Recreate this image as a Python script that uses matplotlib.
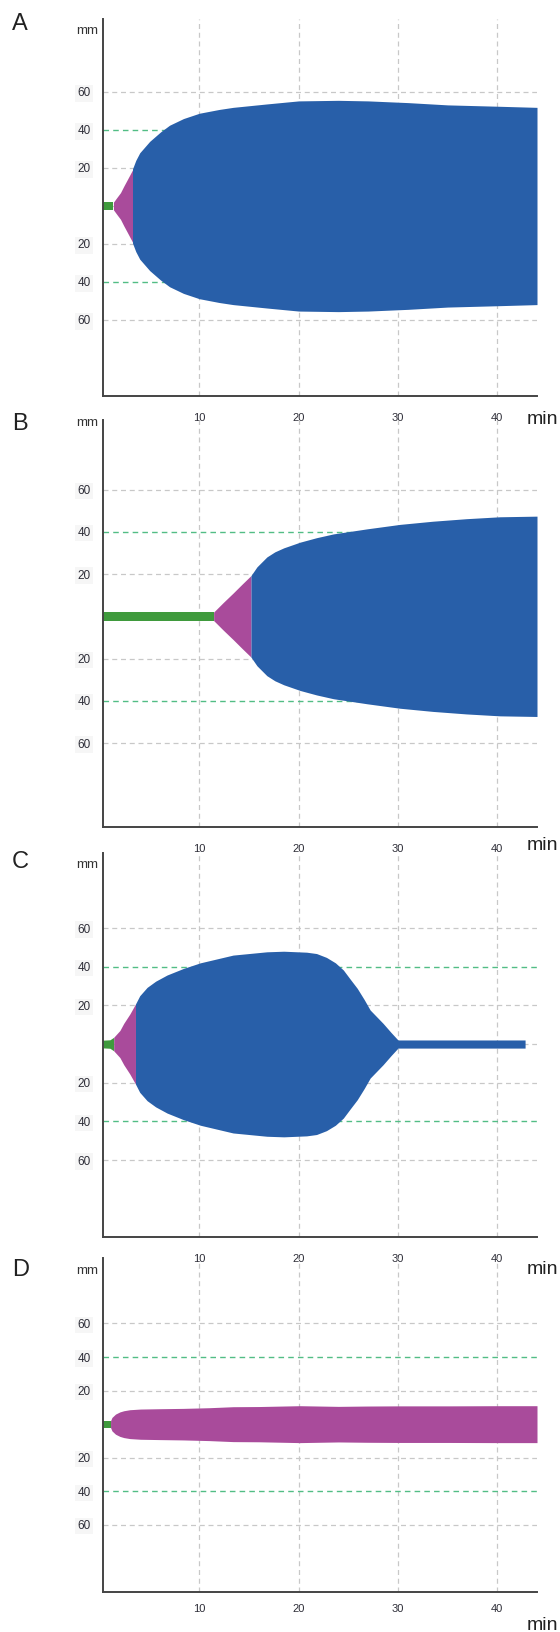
import matplotlib
matplotlib.use('Agg')
import matplotlib.pyplot as plt

# ---- data (time in min, half-width in mm) ----
# panel A
a_green_t = [0.3, 1.35]
a_green_h = [2.0, 2.0]
a_purple_t = [1.35, 1.7, 2.06, 2.4, 2.73, 3.27]
a_purple_h = [2.0, 4.5, 7.0, 10.5, 13.7, 19.0]
a_blue_t = [3.27, 3.6, 4.0, 4.4, 5.0, 6.1, 7.0, 8.4, 10.0, 12.0, 13.4, 16.8,
            20.0, 24.0, 27.0, 31.0, 35.0, 40.0, 44.0]
a_blue_h = [19.5, 24.0, 28.0, 30.4, 34.0, 39.0, 42.5, 46.0, 48.8, 50.8, 51.9,
            53.7, 55.3, 55.6, 55.3, 54.4, 53.2, 52.5, 51.9]

# panel B
b_green_t = [0.3, 11.44]
b_green_h = [2.0, 2.0]
b_purple_t = [11.44, 12.4, 13.4, 14.3, 15.2]
b_purple_h = [2.0, 6.5, 11.0, 15.2, 19.3]
b_blue_t = [15.2, 15.8, 16.8, 17.6, 18.5, 20.15, 21.8, 23.5, 26.9, 30.2, 33.5,
            36.9, 40.25, 44.0]
b_blue_h = [19.3, 23.4, 28.1, 30.5, 32.4, 35.1, 37.2, 39.0, 41.4, 43.5, 45.0,
            46.2, 47.1, 47.4]

# panel C
c_green_t = [0.3, 1.0, 1.38]
c_green_h = [2.0, 2.2, 3.5]
c_purple_t = [1.38, 2.0, 2.39, 3.0, 3.57]
c_purple_h = [3.5, 7.0, 10.7, 15.5, 20.7]
c_blue_t = [3.57, 4.0, 4.74, 5.6, 6.75, 8.4, 10.1, 13.4, 16.8, 18.5, 20.8, 21.8,
            22.8, 23.7, 24.5, 25.2, 25.9, 26.6, 27.2, 28.5, 29.3, 30.0, 42.8]
c_blue_h = [20.7, 25.0, 29.3, 32.5, 35.7, 39.1, 42.0, 46.0, 47.7, 48.0, 47.5,
            46.8, 44.8, 42.0, 38.3, 33.5, 28.8, 23.0, 17.6, 10.7, 6.0, 2.1, 2.1]

# panel D
d_green_t = [0.3, 1.06]
d_green_h = [2.0, 2.0]
d_purple_t = [1.06, 1.2, 1.56, 2.0, 2.4, 3.0, 4.07, 6.0, 8.4, 11.0, 13.4, 16.0,
              20.1, 24.0, 26.9, 30.0, 35.0, 40.0, 44.0]
d_purple_h = [2.0, 4.0, 6.0, 7.3, 8.0, 8.6, 9.0, 9.2, 9.4, 9.8, 10.4, 10.5,
              11.0, 10.6, 10.8, 10.9, 10.9, 11.0, 11.0]

letters = ['A', 'B', 'C', 'D']
x_ticks = [10, 20, 30, 40]
y_ticks = [-60, -40, -20, 20, 40, 60]
y_grid_gray = [-60, -20, 0, 20, 60]
y_grid_green = [-40, 40]

GREEN = '#3f9a3d'
PURPLE = '#a94b9b'
BLUE = '#285fa9'
GRID = '#c8c8c8'
GRID_G = '#52bd85'
AXC = '#444444'
NARROW = ['Liberation Sans Narrow', 'Liberation Sans', 'DejaVu Sans']

W, H = 560, 1632
fig = plt.figure(figsize=(W / 100, H / 100), dpi=100)


def px_axes(left, top, right, bottom):
    return fig.add_axes([left / W, 1 - bottom / H, (right - left) / W, (bottom - top) / H])


def ftext(x, y, s, **kw):
    fig.text(x / W, 1 - y / H, s, **kw)


# pixel layout of each panel: top, bottom, ylim, letter y, mm y, min y, xtick pad
layout = [
    (19, 396, (-100, 98.4), 24, 31, 419, 12),
    (420, 827, (-99.7, 92.9), 424, 423, 845, 12),
    (853, 1237, (-99.8, 98.8), 862, 865, 1270, 12),
    (1258, 1592, (-100, 99), 1270, 1271, 1625, 8.5),
]

series = [
    [(a_green_t, a_green_h, GREEN), (a_purple_t, a_purple_h, PURPLE), (a_blue_t, a_blue_h, BLUE)],
    [(b_green_t, b_green_h, GREEN), (b_purple_t, b_purple_h, PURPLE), (b_blue_t, b_blue_h, BLUE)],
    [(c_green_t, c_green_h, GREEN), (c_purple_t, c_purple_h, PURPLE), (c_blue_t, c_blue_h, BLUE)],
    [(d_green_t, d_green_h, GREEN), (d_purple_t, d_purple_h, PURPLE)],
]

for letter, (top, bottom, ylim, ly, my, miny, xpad), parts in zip(letters, layout, series):
    ax = px_axes(103, top, 537, bottom)
    ax.patch.set_visible(False)  # keep the tick labels of the panel above visible
    ax.set_xlim(0.3, 44)
    ax.set_ylim(*ylim)

    # grid
    for gx in x_ticks:
        ax.axvline(gx, color=GRID, lw=0.9, ls=(0, (4, 3)), zorder=1)
    for gy in y_grid_gray:
        ax.axhline(gy, color=GRID, lw=0.9, ls=(0, (4, 3)), zorder=1)
    for gy in y_grid_green:
        ax.axhline(gy, color=GRID_G, lw=1.0, ls=(0, (4, 3)), zorder=1)

    # bands
    for t, h, col in parts:
        ax.fill_between(t, [-v for v in h], h, color=col, lw=0, zorder=3)

    for s in ['top', 'right']:
        ax.spines[s].set_visible(False)
    for s in ['left', 'bottom']:
        ax.spines[s].set_color(AXC)
        ax.spines[s].set_linewidth(1.4)
        ax.spines[s].set_zorder(5)

    ax.set_yticks(y_ticks)
    ax.set_yticklabels([str(abs(v)) for v in y_ticks], family=NARROW, fontsize=8.5, color='#2e2e38')
    ax.set_xticks(x_ticks)
    ax.set_xticklabels([str(v) for v in x_ticks], family=NARROW, fontsize=8, color='#2e2e38')
    ax.tick_params(axis='y', length=0, pad=9)
    ax.tick_params(axis='x', length=0, pad=xpad)
    for lab in ax.get_yticklabels():
        lab.set_bbox(dict(facecolor='#f6f6f6', edgecolor='none', pad=1.5))

    ftext(12, ly, letter, fontsize=17, family='Liberation Sans', va='center', ha='left', color='#222222')
    ftext(87.5, my, 'mm', fontsize=9.5, family=NARROW, va='center', ha='center', color='#333333')
    ftext(527, miny, 'min', fontsize=14, family='Liberation Sans', va='center', ha='left', color='#222222')

fig.savefig('out.png', dpi=100, facecolor='white')
